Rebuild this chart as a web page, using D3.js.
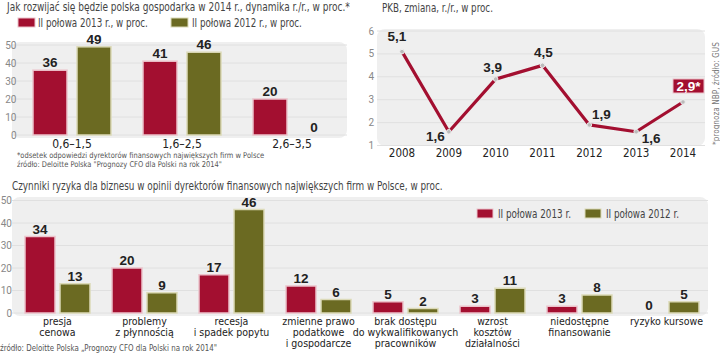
<!DOCTYPE html>
<html lang="pl">
<head>
<meta charset="UTF-8">
<script src="https://d3js.org/d3.v7.min.js"></script>
<style>
  body { margin: 0; background: #fff; }
  svg { display: block; }
  .title { font-family: "DejaVu Sans Condensed", sans-serif; font-size: 12px; fill: #444; }
  .tick-label { font-family: Roboto, sans-serif; font-size: 10px; fill: #888; }
  .cat { font-family: "DejaVu Sans Condensed", sans-serif; font-size: 10.5px; fill: #222; }
  .val { font-family: "Liberation Sans", "DejaVu Sans Condensed", sans-serif; font-weight: bold; font-size: 13.5px; fill: #222; }
  .note { font-family: "DejaVu Sans Condensed", sans-serif; font-size: 8.5px; fill: #555; }
  .legend { font-family: "DejaVu Sans Condensed", sans-serif; font-size: 11.5px; fill: #444; }
</style>
</head>
<body>
<div id="chart"></div>
<script>
// data
const gdpCats = ["0,6–1,5", "1,6–2,5", "2,6–3,5"];
const gdp2013 = [36, 41, 20];
const gdp2012 = [49, 46, 0];
const gdpTicks = [0, 10, 20, 30, 40, 50];

const pkbYears = [2008, 2009, 2010, 2011, 2012, 2013, 2014];
const pkbValues = [5.1, 1.6, 3.9, 4.5, 1.9, 1.6, 2.9];
const pkbTicks = [1, 2, 3, 4, 5, 6];

const riskCats = [
  ["presja", "cenowa"],
  ["problemy", "z płynnością"],
  ["recesja", "i spadek popytu"],
  ["zmienne prawo", "podatkowe", "i gospodarcze"],
  ["brak dostępu", "do wykwalifikowanych", "pracowników"],
  ["wzrost", "kosztów", "działalności"],
  ["niedostępne", "finansowanie"],
  ["ryzyko kursowe"]
];
const risk2013 = [34, 20, 17, 12, 5, 3, 3, 0];
const risk2012 = [13, 9, 46, 6, 2, 11, 8, 5];
const riskTicks = [0, 10, 20, 30, 40, 50];

const RED = "#a30f30", OLIVE = "#6b6a22";
const RED_EDGE = "#ecc3cb", OLIVE_EDGE = "#dcdab8";
const BG = "#efefef", GRID = "#e0e0e0";

const fmt = d => String(d).replace(".", ",");

const svg = d3.select("#chart").append("svg")
  .attr("width", 720).attr("height", 354);

// condensed text: measure it, then squeeze horizontally to the original width
function fitText(cls, x, y, width, str, rotate) {
  const t = svg.append("text").attr("class", cls).text(str);
  const k = width / t.node().getComputedTextLength();
  t.attr("transform", `translate(${x},${y})${rotate ? " rotate(" + rotate + ")" : ""} scale(${k},1)`);
  return t;
}

function panelBg(x0, x1, y0, y1) {
  svg.append("rect")
    .attr("x", x0).attr("y", y0)
    .attr("width", x1 - x0).attr("height", y1 - y0)
    .attr("rx", 8).attr("fill", BG);
}

function grid(y, ticks, x0, x1, labelX) {
  svg.append("g").selectAll("line").data(ticks).enter().append("line")
    .attr("x1", x0).attr("x2", x1)
    .attr("y1", d => y(d)).attr("y2", d => y(d))
    .attr("stroke", GRID).attr("stroke-width", 1);
  svg.append("g").selectAll("text").data(ticks).enter().append("text")
    .attr("class", "tick-label")
    .attr("x", labelX).attr("y", d => y(d) + 3.5)
    .attr("text-anchor", "end")
    .text(d => d);
}

function bars(values, x, y, offset, width, fill, edge) {
  svg.append("g").selectAll("rect").data(values).enter().append("rect")
    .filter(d => d > 0)
    .attr("x", (d, i) => x(i) + offset)
    .attr("y", d => y(d))
    .attr("width", width)
    .attr("height", d => y(0) - y(d))
    .attr("fill", fill)
    .attr("stroke", edge).attr("stroke-width", 1.5);
  svg.append("g").selectAll("text").data(values).enter().append("text")
    .attr("class", "val")
    .attr("x", (d, i) => x(i) + offset + width / 2)
    .attr("y", d => y(d) - 3)
    .attr("text-anchor", "middle")
    .text(d => d);
}

// ---- panel 1: GDP growth expectations
fitText("title", 7, 11, 343, "Jak rozwijać się będzie polska gospodarka w 2014 r., dynamika r./r., w proc.*");

svg.append("rect").attr("x", 18).attr("y", 18).attr("width", 17).attr("height", 9).attr("fill", RED).attr("stroke", RED_EDGE);
fitText("legend", 38, 26.5, 110, "II połowa 2013 r., w proc.");
svg.append("rect").attr("x", 171).attr("y", 18).attr("width", 17).attr("height", 9).attr("fill", OLIVE).attr("stroke", OLIVE_EDGE);
fitText("legend", 192, 26.5, 110, "II połowa 2012 r., w proc.");

const y1 = d3.scaleLinear().domain([0, 50]).range([135, 45]);
const x1 = d3.scaleBand().domain(d3.range(gdpCats.length)).range([17, 347]);
const c1 = i => x1(i) + x1.bandwidth() / 2;

panelBg(12, 347, 42, 138);
grid(y1, gdpTicks, 12, 347, 16.5);
bars(gdp2013, c1, y1, -39, 34, RED, RED_EDGE);
bars(gdp2012, c1, y1, 5, 34, OLIVE, OLIVE_EDGE);

svg.append("g").selectAll("text").data(gdpCats).enter().append("text")
  .attr("class", "cat").style("font-size", "12px")
  .attr("x", (d, i) => c1(i)).attr("y", 148)
  .attr("text-anchor", "middle")
  .text(d => d);

fitText("note", 17, 157.5, 263, "*odsetek odpowiedzi dyrektorów finansowych największych firm w Polsce").style("font-size", "8px");
fitText("note", 17, 166.5, 218, "źródło: Deloitte Polska \"Prognozy CFO dla Polski na rok 2014\"").style("font-size", "8px");

// ---- panel 2: PKB line
fitText("title", 382, 12, 111, "PKB, zmiana, r./r., w proc.");

const y2 = d3.scaleLinear().domain([1, 6]).range([145.5, 31]);
const x2 = d3.scalePoint().domain(pkbYears).range([402, 683]);

panelBg(377, 705, 29, 146);
grid(y2, pkbTicks, 377, 705, 374);

svg.append("path")
  .datum(pkbValues)
  .attr("fill", "none")
  .attr("stroke", RED)
  .attr("stroke-width", 3.2)
  .attr("stroke-linejoin", "round")
  .attr("d", d3.line().x((d, i) => x2(pkbYears[i])).y(d => y2(d)));

svg.append("g").selectAll("circle").data(pkbValues).enter().append("circle")
  .attr("cx", (d, i) => x2(pkbYears[i]))
  .attr("cy", d => y2(d))
  .attr("r", 2.3)
  .attr("fill", "#bbb").attr("stroke", "#eee").attr("stroke-width", 1);

// label offsets relative to the point (dx, dy, anchor)
const pkbLabelPos = [[-5, -11, "middle"], [-4, 9, "end"], [-3, -7, "middle"], [1, -8, "middle"], [12, -6, "middle"], [15, 11, "middle"]];
svg.append("g").selectAll("text").data(pkbValues.slice(0, 6)).enter().append("text")
  .attr("class", "val")
  .attr("x", (d, i) => x2(pkbYears[i]) + pkbLabelPos[i][0])
  .attr("y", (d, i) => y2(d) + pkbLabelPos[i][1])
  .attr("text-anchor", (d, i) => pkbLabelPos[i][2])
  .text(d => fmt(d));

const last = pkbValues.length - 1;
svg.append("rect")
  .attr("x", x2(pkbYears[last]) - 10).attr("y", y2(pkbValues[last]) - 23)
  .attr("width", 31).attr("height", 14)
  .attr("fill", RED).attr("stroke", RED_EDGE);
svg.append("text").attr("class", "val").style("fill", "#fff")
  .attr("x", x2(pkbYears[last]) + 5.5).attr("y", y2(pkbValues[last]) - 11)
  .attr("text-anchor", "middle")
  .text(fmt(pkbValues[last]) + "*");

svg.append("g").selectAll("text").data(pkbYears).enter().append("text")
  .attr("class", "cat").style("font-size", "11.5px")
  .attr("x", d => x2(d)).attr("y", 157)
  .attr("text-anchor", "middle")
  .text(d => d);

fitText("note", 718.5, 145, 103, "*prognoza NBP, źródło: GUS", -90).style("fill", "#777");

// ---- panel 3: risk factors
fitText("title", 12, 190, 431, "Czynniki ryzyka dla biznesu w opinii dyrektorów finansowych największych firm w Polsce, w proc.");

const y3 = d3.scaleLinear().domain([0, 50]).range([313, 200.5]);
const x3 = d3.scaleBand().domain(d3.range(riskCats.length)).range([14, 710]);
const c3 = i => x3(i) + x3.bandwidth() / 2;

panelBg(12, 708, 197, 316);
grid(y3, riskTicks, 12, 708, 12);

svg.append("rect").attr("x", 477).attr("y", 209).attr("width", 16).attr("height", 9).attr("fill", RED).attr("stroke", RED_EDGE);
fitText("legend", 498, 217.5, 73, "II połowa 2013 r.");
svg.append("rect").attr("x", 585).attr("y", 209).attr("width", 16).attr("height", 9).attr("fill", OLIVE).attr("stroke", OLIVE_EDGE);
fitText("legend", 606, 217.5, 73, "II połowa 2012 r.");

bars(risk2013, c3, y3, -32.5, 30, RED, RED_EDGE);
bars(risk2012, c3, y3, 2.5, 30, OLIVE, OLIVE_EDGE);

const catG = svg.append("g").selectAll("text").data(riskCats).enter().append("text")
  .attr("class", "cat")
  .attr("text-anchor", "middle");
catG.selectAll("tspan").data((d, i) => d.map(s => ({ s, i }))).enter().append("tspan")
  .attr("x", d => c3(d.i))
  .attr("y", (d, j) => 325 + j * 11)
  .text(d => d.s);

fitText("note", 0, 351, 217, "źródło: Deloitte Polska „Prognozy CFO dla Polski na rok 2014\"");
</script>
</body>
</html>
